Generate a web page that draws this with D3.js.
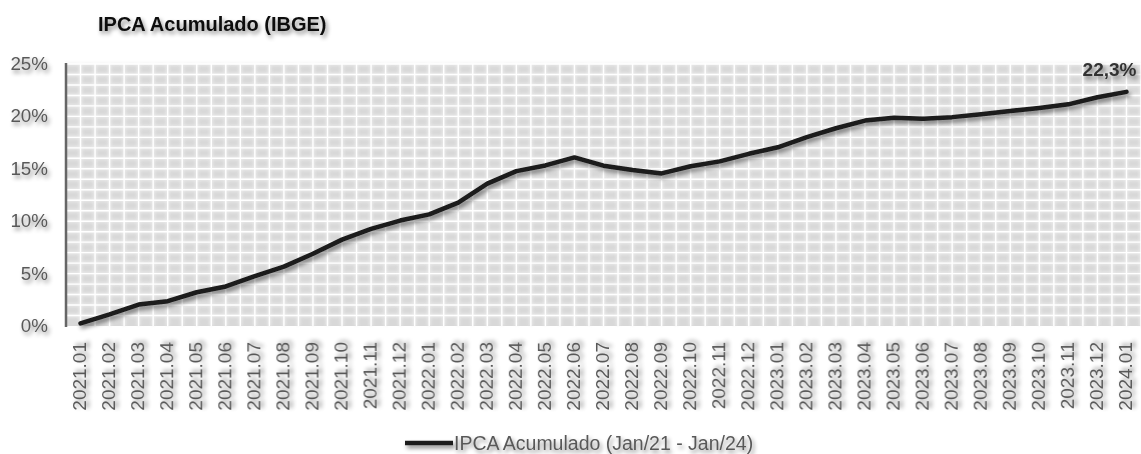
<!DOCTYPE html>
<html>
<head>
<meta charset="utf-8">
<script src="https://cdn.jsdelivr.net/npm/d3@7"></script>
<style>
  body { margin: 0; background: #fff; }
  svg { display: block; font-family: Arial, "Liberation Sans", sans-serif; }
</style>
</head>
<body>
<svg width="1141" height="454"></svg>
<script>
let months = [
  "2021.01", "2021.02", "2021.03", "2021.04", "2021.05", "2021.06",
  "2021.07", "2021.08", "2021.09", "2021.10", "2021.11", "2021.12",
  "2022.01", "2022.02", "2022.03", "2022.04", "2022.05", "2022.06",
  "2022.07", "2022.08", "2022.09", "2022.10", "2022.11", "2022.12",
  "2023.01", "2023.02", "2023.03", "2023.04", "2023.05", "2023.06",
  "2023.07", "2023.08", "2023.09", "2023.10", "2023.11", "2023.12",
  "2024.01"
];

// IPCA acumulado (%)
let ipca = [
  0.25, 1.11, 2.05, 2.37, 3.22, 3.77,
  4.76, 5.67, 6.90, 8.24, 9.26, 10.06,
  10.65, 11.77, 13.58, 14.78, 15.32, 16.09,
  15.30, 14.89, 14.56, 15.24, 15.71, 16.43,
  17.05, 18.03, 18.87, 19.60, 19.87, 19.78,
  19.93, 20.21, 20.52, 20.81, 21.15, 21.83,
  22.34
];

let yTicks = [0, 5, 10, 15, 20, 25];
let title = "IPCA Acumulado (IBGE)";
let legendLabel = "IPCA Acumulado (Jan/21 - Jan/24)";
let lastLabel = "22,3%";

let svg = d3.select("svg");
let plotLeft = 66, plotRight = 1141, plotTop = 64, plotBottom = 326;

// sombras
let defs = svg.append("defs");
defs.append("filter")
  .attr("id", "shadow")
  .attr("x", "-20%").attr("y", "-50%")
  .attr("width", "140%").attr("height", "200%")
  .append("feDropShadow")
  .attr("dx", 2).attr("dy", 3)
  .attr("stdDeviation", 2)
  .attr("flood-color", "#000")
  .attr("flood-opacity", 0.45);
defs.append("filter")
  .attr("id", "blur")
  .append("feGaussianBlur")
  .attr("stdDeviation", 1.6);

var xScale = d3.scaleBand()
  .domain(months)
  .range([plotLeft, plotRight]);

var yScale = d3.scaleLinear()
  .domain([0, 25])
  .range([plotBottom, plotTop]);

// fundo da grade
svg.append("rect")
  .attr("x", plotLeft).attr("y", plotTop)
  .attr("width", plotRight - plotLeft).attr("height", plotBottom - plotTop)
  .attr("fill", "#d8d8d8");

let half = xScale.bandwidth() / 2;
let vLines = [];
for (var i = 0; i < months.length; i++) {
  vLines.push(xScale(months[i]) + half);
  vLines.push(xScale(months[i]) + xScale.bandwidth());
}
let hLines = d3.range(1, 26);

let grid = svg.append("g");
[["#f2f2f2", 3.5, 0.7, "url(#blur)"], ["#ffffff", 1.4, 1, null]].forEach(function(st) {
  let g = grid.append("g")
    .attr("stroke", st[0])
    .attr("stroke-width", st[1])
    .attr("opacity", st[2])
    .attr("filter", st[3]);
  g.selectAll("line.v")
    .data(vLines)
    .enter()
    .append("line")
    .attr("x1", function(d) { return d; })
    .attr("x2", function(d) { return d; })
    .attr("y1", plotTop)
    .attr("y2", plotBottom);
  g.selectAll("line.h")
    .data(hLines)
    .enter()
    .append("line")
    .attr("x1", plotLeft)
    .attr("x2", plotRight)
    .attr("y1", function(d) { return yScale(d); })
    .attr("y2", function(d) { return yScale(d); });
});

// eixos
svg.append("line")
  .attr("x1", plotLeft).attr("x2", plotRight)
  .attr("y1", plotBottom).attr("y2", plotBottom)
  .attr("stroke", "#666").attr("stroke-width", 2.5)
  .attr("filter", "url(#shadow)");
svg.append("line")
  .attr("x1", plotLeft).attr("x2", plotLeft)
  .attr("y1", plotTop - 1).attr("y2", plotBottom + 1)
  .attr("stroke", "#666").attr("stroke-width", 2.5);

// rótulos do eixo y
svg.append("g")
  .selectAll("text")
  .data(yTicks)
  .enter()
  .append("text")
  .attr("x", 48)
  .attr("y", function(d) { return yScale(d) + 1; })
  .attr("text-anchor", "end")
  .attr("dominant-baseline", "middle")
  .attr("font-size", "18.8px")
  .attr("fill", "#595959")
  .attr("filter", "url(#shadow)")
  .text(function(d) { return d + "%"; });

// rótulos do eixo x
svg.append("g")
  .selectAll("text")
  .data(months)
  .enter()
  .append("text")
  .attr("transform", function(d) {
    return "translate(" + (xScale(d) + half + 0.5) + "," + (plotBottom + 16) + ") rotate(-90)";
  })
  .attr("text-anchor", "end")
  .attr("dominant-baseline", "middle")
  .attr("font-size", "19px")
  .attr("fill", "#595959")
  .attr("filter", "url(#shadow)")
  .text(function(d) { return d; });

// linha
var line = d3.line()
  .x(function(d, i) { return xScale(months[i]) + half; })
  .y(function(d) { return yScale(d); });

svg.append("path")
  .datum(ipca)
  .attr("d", line)
  .attr("fill", "none")
  .attr("stroke", "#1a1a1a")
  .attr("stroke-width", 4.5)
  .attr("stroke-linejoin", "round")
  .attr("stroke-linecap", "round")
  .attr("filter", "url(#shadow)");

// último valor
let n = ipca.length - 1;
svg.append("text")
  .attr("x", xScale(months[n]) + half + 10)
  .attr("y", yScale(ipca[n]) - 16)
  .attr("text-anchor", "end")
  .attr("font-size", "19px")
  .attr("font-weight", "bold")
  .attr("fill", "#333")
  .attr("filter", "url(#shadow)")
  .text(lastLabel);

// título
svg.append("text")
  .attr("x", 98)
  .attr("y", 31)
  .attr("font-size", "20px")
  .attr("font-weight", "bold")
  .attr("fill", "#111")
  .attr("filter", "url(#shadow)")
  .text(title);

// legenda
let legend = svg.append("g").attr("filter", "url(#shadow)");
legend.append("line")
  .attr("x1", 405).attr("x2", 453)
  .attr("y1", 443).attr("y2", 443)
  .attr("stroke", "#1a1a1a")
  .attr("stroke-width", 4.5);
legend.append("text")
  .attr("x", 454)
  .attr("y", 450)
  .attr("font-size", "19.5px")
  .attr("fill", "#595959")
  .text(legendLabel);
</script>
</body>
</html>
